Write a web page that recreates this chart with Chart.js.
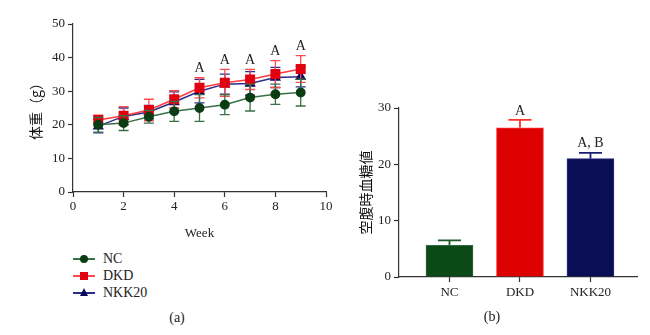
<!DOCTYPE html>
<html>
<head>
<meta charset="utf-8">
<script src="https://cdn.jsdelivr.net/npm/chart.js@4.4.1/dist/chart.umd.min.js"></script>
<style>
  body { margin: 0; background: #fff; width: 650px; height: 335px; position: relative; overflow: hidden; }
  #weightBox { position: absolute; left: 0; top: 0; width: 340px; height: 245px; }
  #glucoseBox { position: absolute; left: 340px; top: 80px; width: 310px; height: 235px; }
  .legend { position: absolute; left: 73px; top: 250px; font-family: "Liberation Serif", serif; font-size: 14px; color: #222; }
  .legend .row { position: relative; height: 17px; line-height: 17px; padding-left: 30px; }
  .legend .ln { position: absolute; left: 0; top: 8px; width: 22px; height: 1.5px; }
  .legend .mk { position: absolute; }
  .cap { position: absolute; font-family: "Liberation Serif", serif; font-size: 14px; color: #222; transform: translate(-50%, -50%); }
</style>
</head>
<body>
<div id="weightBox"><canvas id="weightChart"></canvas></div>
<div id="glucoseBox"><canvas id="glucoseChart"></canvas></div>

<div class="legend">
  <div class="row"><span class="ln" style="background:#3a7048"></span><span class="mk" style="left:7px;top:5px;width:8px;height:8px;border-radius:50%;background:#0b3d14"></span>NC</div>
  <div class="row"><span class="ln" style="background:#ff4a4a"></span><span class="mk" style="left:7px;top:5px;width:8px;height:8px;background:#e00010"></span>DKD</div>
  <div class="row"><span class="ln" style="background:#2c2c8c"></span><span class="mk" style="left:7px;top:4px;width:0;height:0;border-left:4.5px solid transparent;border-right:4.5px solid transparent;border-bottom:8px solid #0b0b5c"></span>NKK20</div>
</div>
<div class="cap" style="left:177px;top:318px">(a)</div>
<div class="cap" style="left:492px;top:317px">(b)</div>

<script>
// --- dane: masa ciała (a) ---
const weeks = [1, 2, 3, 4, 5, 6, 7, 8, 9];
const ncWeight = [20.0, 20.5, 22.4, 24.0, 25.0, 26.0, 28.1, 29.1, 29.6];
const ncErr = [2.2, 2.2, 1.9, 3.0, 4.0, 3.0, 4.0, 3.0, 4.0];
const dkdWeight = [21.4, 22.7, 24.4, 27.6, 31.0, 32.5, 33.5, 35.1, 36.6];
const dkdErr = [1.5, 2.7, 3.2, 2.6, 3.0, 4.0, 3.0, 4.0, 4.0];
const nkkWeight = [19.6, 22.5, 23.8, 26.8, 30.0, 32.1, 32.3, 34.1, 34.3];
const nkkErr = [2.0, 2.5, 2.0, 3.0, 3.5, 3.0, 3.5, 3.0, 3.0];
const weightSig = ['', '', '', '', 'A', 'A', 'A', 'A', 'A'];

// --- dane: glukoza (b) ---
const groups = ['NC', 'DKD', 'NKK20'];
const glucose = [5.6, 26.5, 21.0];
const glucoseErr = [0.9, 1.4, 1.05];
const glucoseSig = ['', 'A', 'A, B'];
const groupColors = ['#0b4a16', '#dd0000', '#0a0f55'];

const serif = "'Liberation Serif', 'Times New Roman', serif";
const cjk = "'Noto Sans CJK JP', 'Noto Sans CJK SC', sans-serif";
const axisColor = '#333';

// Słupki błędów rysowane przed każdym zbiorem danych
const errorBarPlugin = {
    id: 'errorBars',
    beforeDatasetDraw(chart, args) {
        const ds = chart.data.datasets[args.index];
        if (!ds.errors) return;
        const meta = chart.getDatasetMeta(args.index);
        const yScale = chart.scales.y;
        const ctx = chart.ctx;
        ctx.save();
        ctx.lineWidth = ds.errorWidth || 1.3;
        meta.data.forEach((el, i) => {
            const v = chart.config.type === 'bar' ? ds.data[i].y : ds.data[i];
            const e = ds.errors[i];
            const x = el.x;
            const top = yScale.getPixelForValue(v + e);
            const bot = ds.upperOnly ? yScale.getPixelForValue(v) : yScale.getPixelForValue(v - e);
            const cw = ds.capWidth || 5;
            ctx.strokeStyle = Array.isArray(ds.errorColor) ? ds.errorColor[i] : ds.errorColor;
            ctx.beginPath();
            ctx.moveTo(x, top); ctx.lineTo(x, bot);
            ctx.moveTo(x - cw, top); ctx.lineTo(x + cw, top);
            if (!ds.upperOnly) { ctx.moveTo(x - cw, bot); ctx.lineTo(x + cw, bot); }
            ctx.stroke();
        });
        ctx.restore();
    }
};

// Oznaczenia istotności nad słupkami błędów
const sigPlugin = {
    id: 'sigLabels',
    afterDatasetsDraw(chart, args, opts) {
        const ds = chart.data.datasets[opts.datasetIndex];
        const meta = chart.getDatasetMeta(opts.datasetIndex);
        const ctx = chart.ctx;
        ctx.save();
        ctx.font = '14px ' + serif;
        ctx.fillStyle = '#222';
        ctx.textAlign = 'center';
        ctx.textBaseline = 'bottom';
        opts.labels.forEach((lab, i) => {
            if (!lab) return;
            const v = chart.config.type === 'bar' ? ds.data[i].y : ds.data[i];
            const y = chart.scales.y.getPixelForValue(v + ds.errors[i]);
            ctx.fillText(lab, meta.data[i].x, y - 2);
        });
        ctx.restore();
    }
};

function axisGrid() {
    return { drawOnChartArea: false, drawTicks: true, tickLength: 5, color: axisColor, tickWidth: 1.2 };
}
function axisBorder() {
    return { display: true, color: axisColor, width: 1.2 };
}

// --- Wykres (a): masa ciała ---
new Chart(document.getElementById('weightChart'), {
    type: 'line',
    data: {
        labels: weeks,
        datasets: [
            {
                label: 'NC', data: ncWeight, errors: ncErr,
                borderColor: '#3a7048', errorColor: '#3a7048', borderWidth: 1.5,
                pointStyle: 'circle', pointRadius: 4.2,
                pointBackgroundColor: '#0b3d14', pointBorderColor: '#0b3d14'
            },
            {
                label: 'DKD', data: dkdWeight, errors: dkdErr,
                borderColor: '#ff3b3b', errorColor: '#ff4a4a', borderWidth: 1.5,
                pointStyle: 'rect', pointRadius: 6,
                pointBackgroundColor: '#e00010', pointBorderColor: '#e00010'
            },
            {
                label: 'NKK20', data: nkkWeight, errors: nkkErr,
                borderColor: '#2c2c8c', errorColor: '#2c2c8c', borderWidth: 1.5,
                pointStyle: 'triangle', pointRadius: 5,
                pointBackgroundColor: '#0b0b5c', pointBorderColor: '#0b0b5c'
            }
        ]
    },
    options: {
        responsive: true,
        maintainAspectRatio: false,
        animation: false,
        layout: { padding: { top: 24, right: 14, left: 0, bottom: 0 } },
        plugins: {
            legend: { display: false },
            tooltip: { enabled: false },
            sigLabels: { datasetIndex: 1, labels: weightSig }
        },
        scales: {
            x: {
                type: 'linear', min: 0, max: 10,
                ticks: { stepSize: 2, color: '#222', font: { family: serif, size: 13 }, padding: 2, maxRotation: 0 },
                grid: axisGrid(), border: axisBorder(),
                title: { display: true, text: 'Week', color: '#222', font: { family: serif, size: 13 }, padding: { top: 4, bottom: 4 } },
                afterFit: (s) => { s.height = 53; }
            },
            y: {
                min: 0, max: 50,
                ticks: { stepSize: 10, color: '#222', font: { family: serif, size: 13 }, padding: 3 },
                grid: axisGrid(), border: axisBorder(),
                title: { display: true, text: '体重（g）', color: '#111', font: { family: cjk, size: 14 }, padding: { top: 27, bottom: 0 } },
                afterFit: (s) => { s.width = 73; }
            }
        }
    },
    plugins: [errorBarPlugin, sigPlugin]
});

// --- Wykres (b): glukoza na czczo ---
new Chart(document.getElementById('glucoseChart'), {
    type: 'bar',
    data: {
        datasets: [{
            data: glucose.map((v, i) => ({ x: i, y: v })),
            errors: glucoseErr,
            upperOnly: true,
            capWidth: 11.5,
            errorWidth: 1.8,
            errorColor: ['#1d5a28', '#ff3030', '#1a1f70'],
            backgroundColor: groupColors,
            borderColor: ['#2f6b3a', '#ff3030', '#2a2f80'],
            borderWidth: 1,
            barThickness: 47
        }]
    },
    options: {
        responsive: true,
        maintainAspectRatio: false,
        animation: false,
        layout: { padding: { top: 28, right: 13, left: 0, bottom: 0 } },
        plugins: {
            legend: { display: false },
            tooltip: { enabled: false },
            sigLabels: { datasetIndex: 0, labels: glucoseSig }
        },
        scales: {
            x: {
                type: 'linear', min: -0.716, max: 2.66, offset: false,
                afterBuildTicks: (s) => { s.ticks = groups.map((g, i) => ({ value: i })); },
                ticks: { callback: (v) => groups[v], color: '#222', font: { family: serif, size: 13 }, padding: 3, maxRotation: 0 },
                grid: Object.assign(axisGrid(), { offset: false }), border: axisBorder(),
                afterFit: (s) => { s.height = 38; }
            },
            y: {
                min: 0, max: 30,
                ticks: { stepSize: 10, color: '#222', font: { family: serif, size: 13 }, padding: 3 },
                grid: axisGrid(), border: axisBorder(),
                title: { display: true, text: '空腹時血糖値', color: '#111', font: { family: cjk, size: 14 }, padding: { top: 17, bottom: 0 } },
                afterFit: (s) => { s.width = 59; }
            }
        }
    },
    plugins: [errorBarPlugin, sigPlugin]
});
</script>
</body>
</html>
